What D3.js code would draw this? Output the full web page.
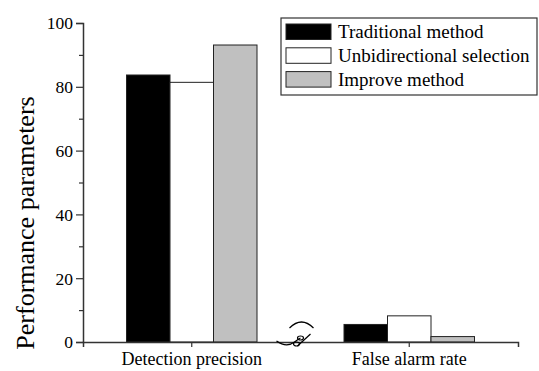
<!DOCTYPE html>
<html>
<head>
<meta charset="utf-8">
<script src="https://cdn.jsdelivr.net/npm/d3@7"></script>
</head>
<body style="margin:0;background:#fff">
<svg id="chart" width="539" height="371" font-family="Liberation Serif">
  <text transform="translate(34,223) rotate(-90)" text-anchor="middle" font-family="Liberation Serif" font-size="26">Performance parameters</text>
</svg>
<script>
// grouped bars, two categories, three methods
var categories = ["Detection precision", "False alarm rate"];
var methods = ["Traditional method", "Unbidirectional selection", "Improve method"];
var traditional = [83.7, 5.5];
var unbidirectional = [81.4, 8.2];
var improved = [93.1, 1.7];
var yTicks = [0, 20, 40, 60, 80, 100];
var yMinor = [10, 30, 50, 70, 90];

var series = [traditional, unbidirectional, improved];
var fills = ["#000000", "#ffffff", "#c0c0c0"];
var fontName = "Liberation Serif";

var plotLeft = 83, plotRight = 518, plotTop = 23, plotBottom = 342;

var svg = d3.select("#chart");

var x = d3.scaleBand()
    .domain(categories)
    .range([plotLeft, plotRight])
    .paddingInner(0.4)
    .paddingOuter(0.2);

var xs = d3.scaleBand()
    .domain(d3.range(methods.length))
    .range([0, x.bandwidth()]);

var y = d3.scaleLinear()
    .domain([0, 100])
    .range([plotBottom, plotTop]);

// bars
var groups = svg.selectAll(".group")
    .data(categories)
    .enter()
    .append("g")
    .attr("class", "group")
    .attr("transform", function(d){ return "translate(" + x(d) + ",0)"; });

groups.selectAll("rect")
    .data(function(d, i){
        return series.map(function(s, j){ return {k: j, v: s[i]}; });
    })
    .enter()
    .append("rect")
    .attr("x", function(d){ return xs(d.k); })
    .attr("width", xs.bandwidth())
    .attr("y", function(d){ return y(d.v); })
    .attr("height", function(d){ return y(0) - y(d.v); })
    .attr("fill", function(d){ return fills[d.k]; })
    .attr("stroke", "#222")
    .attr("stroke-width", 1);

// y axis
var yAxis = svg.append("g")
    .attr("transform", "translate(" + plotLeft + ",0)")
    .call(d3.axisLeft(y).tickValues(yTicks).tickSize(7).tickPadding(3))
    .attr("font-family", fontName)
    .attr("font-size", 17.5);
yAxis.selectAll("text")
    .attr("font-family", fontName)
    .attr("fill", "#000")
    .attr("dy", "0.34em");

svg.append("g")
    .attr("transform", "translate(" + plotLeft + ",0)")
    .call(d3.axisLeft(y).tickValues(yMinor).tickSize(4).tickFormat(""))
    .select(".domain").remove();

// x axis
var xAxis = svg.append("g")
    .attr("transform", "translate(0," + plotBottom + ")")
    .call(d3.axisBottom(x).tickSize(5).tickPadding(5).tickSizeOuter(5))
    .attr("font-family", fontName)
    .attr("font-size", 18);
xAxis.selectAll("text")
    .attr("font-family", fontName)
    .attr("fill", "#000");

svg.selectAll(".domain").attr("stroke", "#333").attr("stroke-width", 1.5);
svg.selectAll(".tick line").attr("stroke", "#333").attr("stroke-width", 1.2);

// axis break mark
var bx = (x(categories[0]) + x.bandwidth() + x(categories[1])) / 2;
var brk = svg.append("g")
    .attr("transform", "translate(" + bx + "," + plotBottom + ")")
    .attr("fill", "none")
    .attr("stroke", "#000")
    .attr("stroke-width", 1.2);
brk.append("path").attr("d", "M-11,-14 Q1,-26 13,-14");
brk.append("path").attr("d", "M-24,-1 Q-14,6 -6,0 Q-2,-3 0,-4");
brk.append("ellipse").attr("cx", -4).attr("cy", 2).attr("rx", 3).attr("ry", 2);
brk.append("ellipse").attr("cx", 0).attr("cy", -4).attr("rx", 3).attr("ry", 2);
brk.append("path").attr("d", "M-3,4 L10,-8");

// legend
var legend = svg.append("g").attr("transform", "translate(281,18)");
legend.append("rect")
    .attr("width", 256)
    .attr("height", 77)
    .attr("fill", "#fff")
    .attr("stroke", "#333")
    .attr("stroke-width", 1.2);

var items = legend.selectAll(".item")
    .data(methods)
    .enter()
    .append("g")
    .attr("class", "item")
    .attr("transform", function(d, i){ return "translate(5," + (6 + i * 23.8) + ")"; });

items.append("rect")
    .attr("width", 45)
    .attr("height", 15.5)
    .attr("fill", function(d, i){ return fills[i]; })
    .attr("stroke", "#222")
    .attr("stroke-width", 1);

items.append("text")
    .attr("x", 52)
    .attr("y", 14)
    .attr("font-family", fontName)
    .attr("font-size", 19)
    .text(function(d){ return d; });
</script>
</body>
</html>
